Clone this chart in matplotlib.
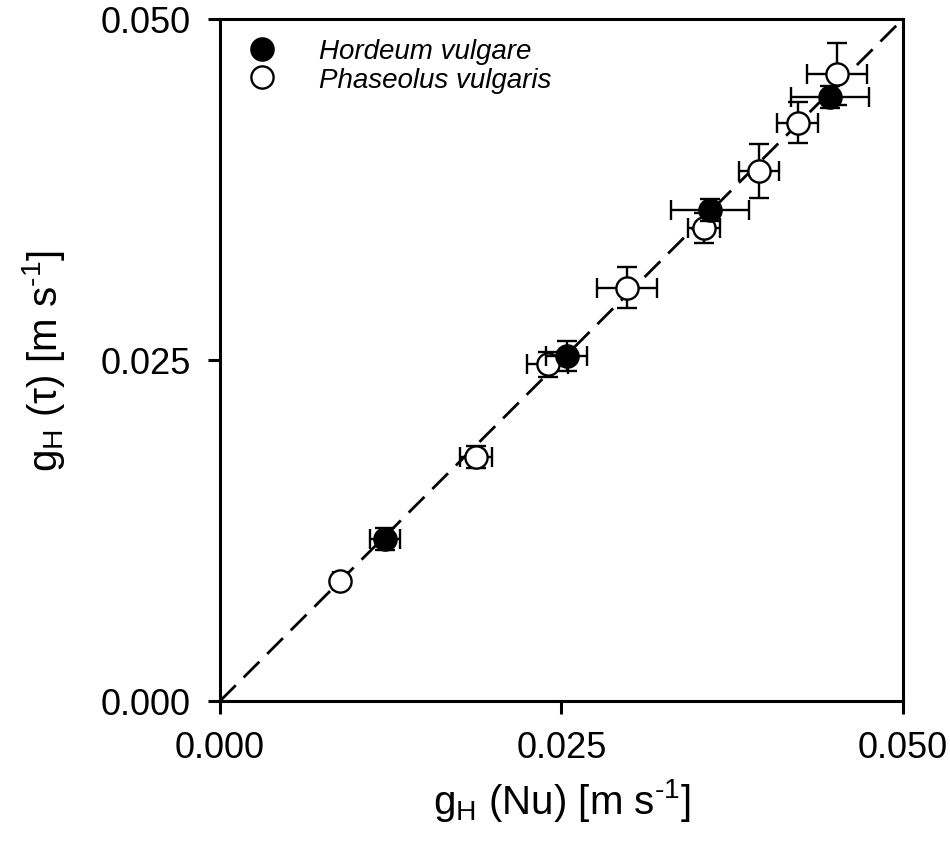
import numpy as np
import matplotlib
matplotlib.use('Agg')
import matplotlib.pyplot as plt

plt.rcParams['font.family'] = ['Liberation Sans', 'DejaVu Sans']
plt.rcParams['mathtext.fontset'] = 'custom'
plt.rcParams['mathtext.rm'] = 'Liberation Sans'

# Hordeum vulgare (filled)
hv_x = [0.01208, 0.0254, 0.03587, 0.04466]
hv_y = [0.01186, 0.02526, 0.03602, 0.04429]
hv_xerr = [0.0011, 0.0015, 0.00285, 0.00285]
hv_yerr = [0.0008, 0.0011, 0.0008, 0.0008]

# Phaseolus vulgaris (open)
pv_x = [0.00878, 0.01874, 0.02401, 0.0298, 0.03543, 0.03946, 0.04231, 0.04517]
pv_y = [0.00878, 0.01786, 0.02467, 0.0303, 0.0347, 0.03887, 0.04239, 0.04597]
pv_xerr = [0.0005, 0.0012, 0.0015, 0.0022, 0.0012, 0.0015, 0.0015, 0.0022]
pv_yerr = [0.0004, 0.0008, 0.0009, 0.0015, 0.0011, 0.002, 0.0015, 0.0023]

ticks = [0.0, 0.025, 0.05]
tick_labels = ['0.000', '0.025', '0.050']

fig = plt.figure(figsize=(9.5, 8.54), dpi=100)
ax = fig.add_axes([0.2316, 0.178, 0.7189, 0.7986])

ax.plot([0, 0.05], [0, 0.05], color='black', linestyle=(0, (8, 4)), linewidth=2, zorder=1)

pv = ax.errorbar(pv_x, pv_y, xerr=pv_xerr, yerr=pv_yerr, fmt='o', color='black',
                 mfc='white', mec='black', mew=1.7, ms=16, ecolor='black',
                 elinewidth=1.7, capsize=7, capthick=1.7, zorder=2)
hv = ax.errorbar(hv_x, hv_y, xerr=hv_xerr, yerr=hv_yerr, fmt='o', color='black',
                 mfc='black', mec='black', mew=1.7, ms=16, ecolor='black',
                 elinewidth=1.7, capsize=7, capthick=1.7, zorder=3)

ax.set_xlim(0, 0.05)
ax.set_ylim(0, 0.05)
ax.set_xticks(ticks)
ax.set_xticklabels(tick_labels)
ax.set_yticks(ticks)
ax.set_yticklabels(tick_labels)
ax.tick_params(direction='out', length=9, width=2.2, labelsize=26, pad=12)
for s in ax.spines.values():
    s.set_linewidth(2.2)

ax.set_xlabel(r'g$_\mathrm{H}$ (Nu) [m s$^{\text{-1}}$]', fontsize=29, labelpad=8)
ax.set_ylabel(r'g$_\mathrm{H}$ (τ) [m s$^{\text{-1}}$]', fontsize=29, labelpad=24)

leg = ax.legend([hv[0], pv[0]], ['Hordeum vulgare', 'Phaseolus vulgaris'],
                loc='upper left', frameon=False, prop={'style': 'italic', 'size': 20},
                handletextpad=1.25, labelspacing=0.1, borderaxespad=0.3,
                handlelength=1.6, markerscale=1.0)

fig.savefig('out.png', dpi=100)
plt.close()
